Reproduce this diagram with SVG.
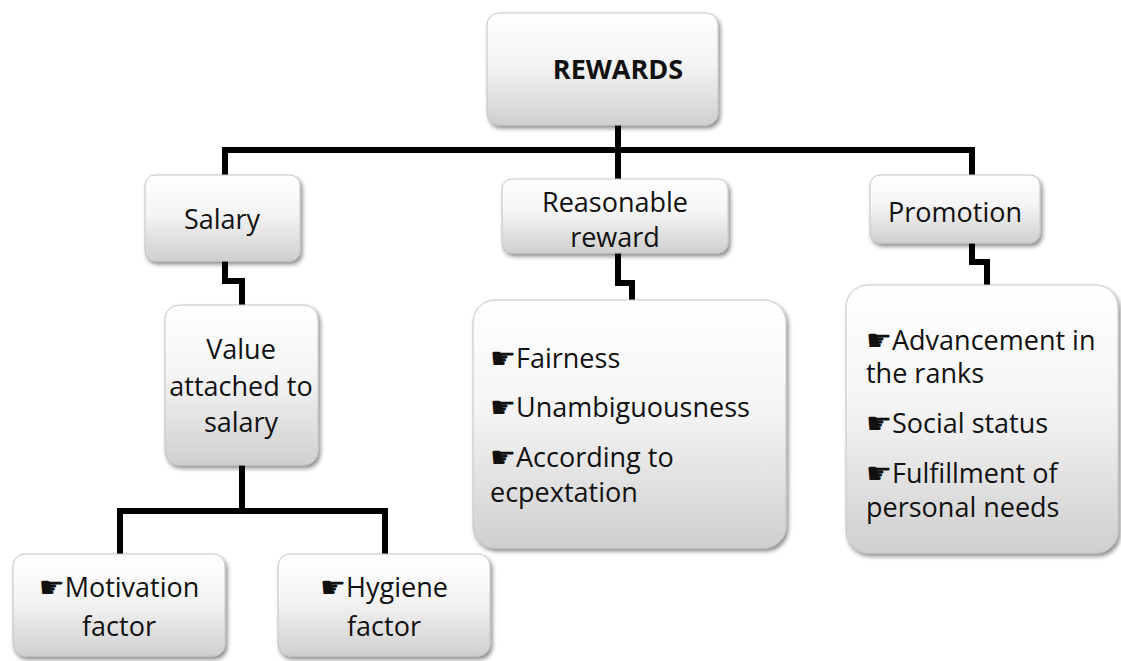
<svg xmlns="http://www.w3.org/2000/svg" width="1121" height="661" viewBox="0 0 1121 661">
<defs>
<linearGradient id="g" x1="0" y1="0" x2="0" y2="1">
<stop offset="0" stop-color="#ffffff"/>
<stop offset="0.45" stop-color="#f4f4f4"/>
<stop offset="1" stop-color="#cfcfcf"/>
</linearGradient>
<filter id="sh" x="-10%" y="-10%" width="125%" height="130%">
<feDropShadow dx="2" dy="3" stdDeviation="2" flood-color="#000" flood-opacity="0.45"/>
</filter>
</defs>
<style>
.box{fill:url(#g);stroke:#c4c4c4;stroke-width:1;filter:url(#sh)}
.t{font-family:"Open Sans","Liberation Sans",sans-serif;font-size:27px;fill:#111}
.c{text-anchor:middle}
.b{font-family:"DejaVu Sans",sans-serif;font-size:29px}
.conn{fill:none;stroke:#000;stroke-width:6;stroke-linejoin:miter}
</style>
<g id="connectors">
<path class="conn" d="M225 176 V150 H972 V176"/>
<path class="conn" d="M618 125 V179"/>
<path class="conn" d="M225 260 V281 H242 V305"/>
<path class="conn" d="M618 252 V283 H632 V300"/>
<path class="conn" d="M972 242 V262 H987 V286"/>
<path class="conn" d="M242 464 V511 H120 V555 M242 511 H385 V555"/>
</g>
<g id="rewards">
<rect class="box" x="487" y="13" width="231" height="112" rx="12"/>
<text class="t c" x="618" y="79" font-weight="bold" font-size="27">REWARDS</text>
</g>
<g id="salary">
<rect class="box" x="145" y="175" width="155" height="86" rx="10"/>
<text class="t c" x="222" y="229">Salary</text>
</g>
<g id="reasonable">
<rect class="box" x="502" y="179" width="226" height="74" rx="10"/>
<text class="t c" x="615" y="212">Reasonable</text>
<text class="t c" x="615" y="247">reward</text>
</g>
<g id="promotion">
<rect class="box" x="870" y="175" width="170" height="68" rx="10"/>
<text class="t c" x="955" y="222">Promotion</text>
</g>
<g id="value">
<rect class="box" x="165" y="305" width="153" height="160" rx="14"/>
<text class="t c" x="241" y="359">Value</text>
<text class="t c" x="241" y="396">attached to</text>
<text class="t c" x="241" y="432">salary</text>
</g>
<g id="reasonable-detail">
<rect class="box" x="473" y="300" width="313" height="248" rx="22"/>
<text class="t" x="490" y="368"><tspan class="b">☛</tspan>Fairness</text>
<text class="t" x="490" y="417"><tspan class="b">☛</tspan>Unambiguousness</text>
<text class="t" x="490" y="467"><tspan class="b">☛</tspan>According to</text>
<text class="t" x="490" y="502">ecpextation</text>
</g>
<g id="promotion-detail">
<rect class="box" x="846" y="285" width="272" height="268" rx="22"/>
<text class="t" x="866" y="350"><tspan class="b">☛</tspan>Advancement in</text>
<text class="t" x="866" y="383">the ranks</text>
<text class="t" x="866" y="433"><tspan class="b">☛</tspan>Social status</text>
<text class="t" x="866" y="483"><tspan class="b">☛</tspan>Fulfillment of</text>
<text class="t" x="866" y="517">personal needs</text>
</g>
<g id="motivation">
<rect class="box" x="13" y="554" width="212" height="102" rx="12"/>
<text class="t c" x="119" y="597"><tspan class="b">☛</tspan>Motivation</text>
<text class="t c" x="119" y="636">factor</text>
</g>
<g id="hygiene">
<rect class="box" x="278" y="554" width="212" height="102" rx="12"/>
<text class="t c" x="384" y="597"><tspan class="b">☛</tspan>Hygiene</text>
<text class="t c" x="384" y="636">factor</text>
</g>
</svg>
